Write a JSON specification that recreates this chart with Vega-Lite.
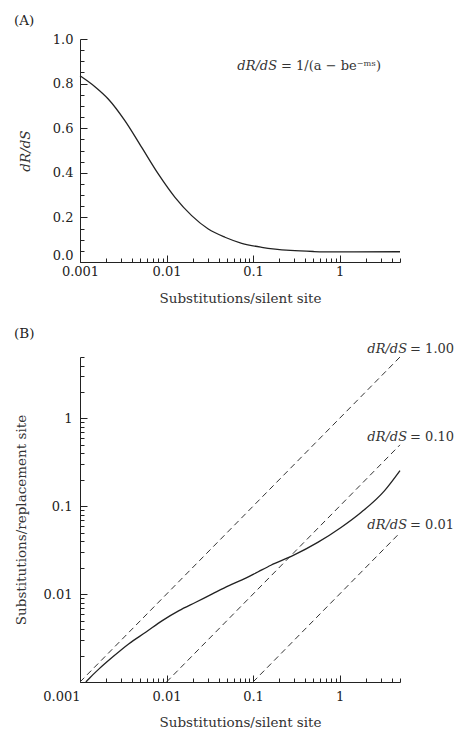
{
  "$schema": "https://vega.github.io/schema/vega-lite/v6.json",
  "background": "white",
  "padding": {"left": 14, "top": 13, "right": 5, "bottom": 5},
  "spacing": 22,
  "config": {
    "font": "DejaVu Serif",
    "view": {"stroke": null},
    "axis": {
      "domainColor": "#222",
      "tickColor": "#222",
      "labelColor": "#222",
      "titleColor": "#333",
      "labelFont": "DejaVu Serif",
      "titleFont": "DejaVu Serif",
      "labelFontSize": 13,
      "titleFontSize": 13.5,
      "titleFontWeight": "normal",
      "grid": false,
      "labelOverlap": false,
      "labelFlush": false,
      "labelBound": false
    },
    "title": {"font": "DejaVu Serif", "fontSize": 13.5, "fontWeight": "normal", "color": "#222", "anchor": "start", "frame": "group"}
  },
  "datasets": {
    "curveA": [
      {"S": 0.001, "R": 0.835},
      {"S": 0.0015, "R": 0.785},
      {"S": 0.00212, "R": 0.731},
      {"S": 0.0033, "R": 0.634},
      {"S": 0.00517, "R": 0.514},
      {"S": 0.00803, "R": 0.395},
      {"S": 0.01253, "R": 0.29},
      {"S": 0.01954, "R": 0.208},
      {"S": 0.0304, "R": 0.148},
      {"S": 0.0474, "R": 0.111},
      {"S": 0.074, "R": 0.084},
      {"S": 0.126, "R": 0.066},
      {"S": 0.18, "R": 0.058},
      {"S": 0.27, "R": 0.052},
      {"S": 0.5, "R": 0.047},
      {"S": 0.83, "R": 0.045},
      {"S": 1.5, "R": 0.045},
      {"S": 5, "R": 0.046}
    ],
    "curveB": [
      {"S": 0.00117, "R": 0.001},
      {"S": 0.00127, "R": 0.00109},
      {"S": 0.00166, "R": 0.00141},
      {"S": 0.00236, "R": 0.00191},
      {"S": 0.00368, "R": 0.00273},
      {"S": 0.00575, "R": 0.00368},
      {"S": 0.00894, "R": 0.005},
      {"S": 0.01395, "R": 0.0065},
      {"S": 0.0218, "R": 0.00809},
      {"S": 0.0339, "R": 0.01007},
      {"S": 0.0528, "R": 0.0125},
      {"S": 0.0824, "R": 0.0152},
      {"S": 0.115, "R": 0.018},
      {"S": 0.161, "R": 0.0213},
      {"S": 0.288, "R": 0.0274},
      {"S": 0.56, "R": 0.0388},
      {"S": 1.04, "R": 0.0574},
      {"S": 1.77, "R": 0.085},
      {"S": 3.3, "R": 0.15},
      {"S": 5, "R": 0.255}
    ],
    "refLines": [
      {"k": "1.00", "S": 0.001, "R": 0.001},
      {"k": "1.00", "S": 5, "R": 5},
      {"k": "0.10", "S": 0.01, "R": 0.001},
      {"k": "0.10", "S": 5, "R": 0.5},
      {"k": "0.01", "S": 0.1, "R": 0.001},
      {"k": "0.01", "S": 5, "R": 0.05}
    ],
    "labelsB": [
      {"S": 6.2, "R": 6.2, "a": "dR/dS", "b": "= 1.00"},
      {"S": 6.2, "R": 0.61, "a": "dR/dS", "b": "= 0.10"},
      {"S": 6.2, "R": 0.061, "a": "dR/dS", "b": "= 0.01"}
    ],
    "labelsA": [
      {"S": 0.2, "R": 0.88, "a": "dR/dS", "b": "= 1/(a − be⁻ᵐˢ)"}
    ]
  },
  "vconcat": [
    {
      "width": 320,
      "height": 223,
      "title": {"text": "(A)", "dx": -66, "offset": 6},
      "encoding": {
        "x": {
          "field": "S", "type": "quantitative",
          "scale": {"type": "log", "domain": [0.001, 5], "nice": false},
          "axis": {
            "title": "Substitutions/silent site",
            "titlePadding": 10,
            "values": [0.001, 0.002, 0.003, 0.004, 0.005, 0.006, 0.007, 0.008, 0.009, 0.01, 0.02, 0.03, 0.04, 0.05, 0.06, 0.07, 0.08, 0.09, 0.1, 0.2, 0.3, 0.4, 0.5, 0.6, 0.7, 0.8, 0.9, 1, 2, 3, 4, 5],
            "labelExpr": "datum.value == 0.001 ? '0.001' : datum.value == 0.01 ? '0.01' : datum.value == 0.1 ? '0.1' : datum.value == 1 ? '1' : ''",
            "tickSize": {"condition": {"test": "datum.value == 0.001 || datum.value == 0.01 || datum.value == 0.1 || datum.value == 1", "value": -7}, "value": -4},
            "labelPadding": 10
          }
        },
        "y": {
          "field": "R", "type": "quantitative",
          "scale": {"domain": [0, 1], "nice": false},
          "axis": {
            "title": "dR/dS",
            "titleFontStyle": "italic",
            "titlePadding": 20,
            "values": [0, 0.05, 0.1, 0.15, 0.2, 0.25, 0.3, 0.35, 0.4, 0.45, 0.5, 0.55, 0.6, 0.65, 0.7, 0.75, 0.8, 0.85, 0.9, 0.95, 1],
            "labelExpr": "abs(datum.value*5 - round(datum.value*5)) < 1e-6 ? format(datum.value, '.1f') : ''",
            "labelBaseline": {"condition": {"test": "datum.value == 0", "value": "bottom"}, "value": "middle"},
            "tickSize": {"condition": {"test": "abs(datum.value*5 - round(datum.value*5)) < 1e-6", "value": -7}, "value": -4},
            "labelPadding": 14
          }
        }
      },
      "layer": [
        {
          "data": {"name": "curveA"},
          "mark": {"type": "line", "color": "#222", "strokeWidth": 1.3, "interpolate": "monotone"}
        },
        {
          "data": {"name": "labelsA"},
          "mark": {"type": "text", "align": "right", "baseline": "middle", "fontStyle": "italic", "fontSize": 13, "color": "#333", "dx": -2},
          "encoding": {"text": {"field": "a"}}
        },
        {
          "data": {"name": "labelsA"},
          "mark": {"type": "text", "align": "left", "baseline": "middle", "fontSize": 13, "color": "#333", "dx": 2},
          "encoding": {"text": {"field": "b"}}
        }
      ]
    },
    {
      "width": 320,
      "height": 325,
      "title": {"text": "(B)", "dx": -66, "offset": 2},
      "encoding": {
        "x": {
          "field": "S", "type": "quantitative",
          "scale": {"type": "log", "domain": [0.001, 5], "nice": false},
          "axis": {
            "title": "Substitutions/silent site",
            "titlePadding": 9,
            "values": [0.001, 0.002, 0.003, 0.004, 0.005, 0.006, 0.007, 0.008, 0.009, 0.01, 0.02, 0.03, 0.04, 0.05, 0.06, 0.07, 0.08, 0.09, 0.1, 0.2, 0.3, 0.4, 0.5, 0.6, 0.7, 0.8, 0.9, 1, 2, 3, 4, 5],
            "labelExpr": "datum.value == 0.001 ? '0.001' : datum.value == 0.01 ? '0.01' : datum.value == 0.1 ? '0.1' : datum.value == 1 ? '1' : ''",
            "labelAlign": {"condition": {"test": "datum.value == 0.001", "value": "right"}, "value": "center"},
            "tickSize": {"condition": {"test": "datum.value == 0.001 || datum.value == 0.01 || datum.value == 0.1 || datum.value == 1", "value": -7}, "value": -4},
            "labelPadding": 15
          }
        },
        "y": {
          "field": "R", "type": "quantitative",
          "scale": {"type": "log", "domain": [0.001, 5], "nice": false},
          "axis": {
            "title": "Substitutions/replacement site",
            "titlePadding": 15,
            "values": [0.001, 0.002, 0.003, 0.004, 0.005, 0.006, 0.007, 0.008, 0.009, 0.01, 0.02, 0.03, 0.04, 0.05, 0.06, 0.07, 0.08, 0.09, 0.1, 0.2, 0.3, 0.4, 0.5, 0.6, 0.7, 0.8, 0.9, 1, 2, 3, 4, 5],
            "labelExpr": "datum.value == 0.01 ? '0.01' : datum.value == 0.1 ? '0.1' : datum.value == 1 ? '1' : ''",
            "tickSize": {"condition": {"test": "datum.value == 0.01 || datum.value == 0.1 || datum.value == 1", "value": -7}, "value": -4},
            "labelPadding": 15
          }
        }
      },
      "layer": [
        {
          "data": {"name": "refLines"},
          "mark": {"type": "line", "color": "#333", "strokeWidth": 1, "strokeDash": [6, 4]},
          "encoding": {"detail": {"field": "k"}}
        },
        {
          "data": {"name": "curveB"},
          "mark": {"type": "line", "color": "#222", "strokeWidth": 1.3, "interpolate": "monotone"}
        },
        {
          "data": {"name": "labelsB"},
          "mark": {"type": "text", "align": "right", "baseline": "middle", "fontStyle": "italic", "fontSize": 13, "color": "#333", "dx": -1},
          "encoding": {"text": {"field": "a"}}
        },
        {
          "data": {"name": "labelsB"},
          "mark": {"type": "text", "align": "left", "baseline": "middle", "fontSize": 13, "color": "#333", "dx": 2},
          "encoding": {"text": {"field": "b"}}
        }
      ]
    }
  ]
}
